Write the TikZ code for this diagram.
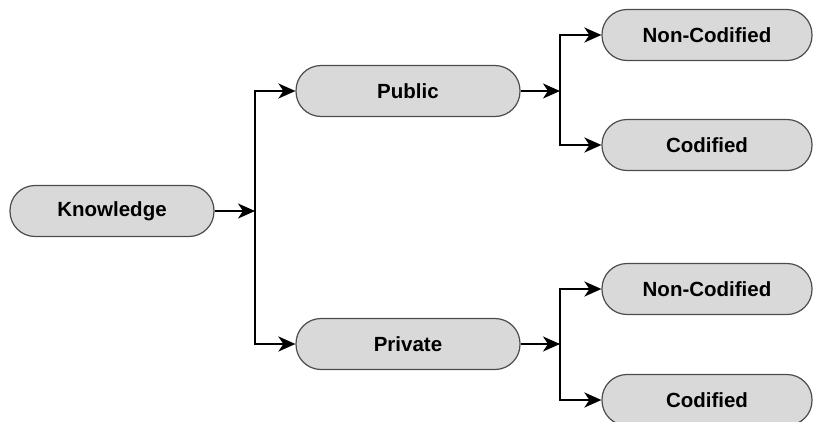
\documentclass[tikz,border=0pt]{standalone}
\usepackage{fontspec}
\setmainfont{Liberation Sans}
\usetikzlibrary{arrows.meta}

\begin{document}
\begin{tikzpicture}[x=1pt,y=-1pt,
  box/.style={draw=black!70,line width=1.2pt,fill=black!15,rounded corners=25pt,
    minimum height=51pt,inner sep=0pt,font=\fontsize{20.5}{24}\selectfont\bfseries},
  link/.style={line width=2.2pt,-{Stealth[length=17pt,width=15pt,inset=5pt]}}]
\useasboundingbox (0,0) rectangle (814,421);
\node [box,minimum width=204pt] (know) at (112,211) {Knowledge};
\node [box,minimum width=224pt] (pub) at (408,91) {Public};
\node [box,minimum width=224pt] (priv) at (408,344) {Private};
\node [box,minimum width=210pt] (pubnc) at (707,35) {Non-Codified};
\node [box,minimum width=210pt] (pubc) at (707,145) {Codified};
\node [box,minimum width=210pt] (privnc) at (707,289) {Non-Codified};
\node [box,minimum width=210pt] (privc) at (707,400) {Codified};
\coordinate (kj) at (255,211);
\coordinate (pj) at (560,91);
\coordinate (vj) at (560,344);
% knowledge split
\draw [link] (know) -- (kj);
\draw [link] (kj) |- (pub);
\draw [link] (kj) |- (priv);
% public split
\draw [link] (pub) -- (pj);
\draw [link] (pj) |- (pubnc);
\draw [link] (pj) |- (pubc);
% private split
\draw [link] (priv) -- (vj);
\draw [link] (vj) |- (privnc);
\draw [link] (vj) |- (privc);
\end{tikzpicture}
\end{document}
